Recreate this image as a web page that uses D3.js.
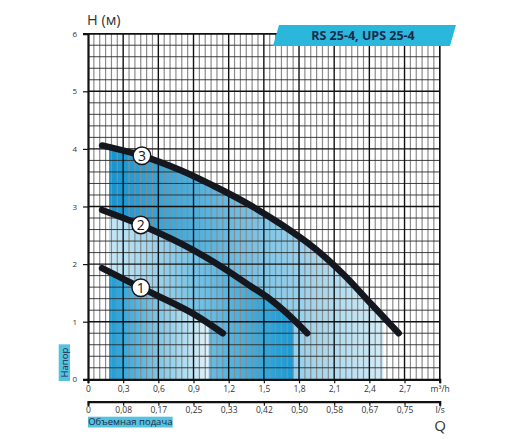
<!DOCTYPE html>
<html>
<head>
<meta charset="utf-8">
<script src="https://cdn.jsdelivr.net/npm/d3@7"></script>
<style>
  html, body { margin: 0; padding: 0; background: #fff; }
  svg { display: block; font-family: "Open Sans", "DejaVu Sans", sans-serif; }
</style>
</head>
<body>
<div id="chart"></div>
<script>
// flow in m3/h, head in m
const curve1 = [[0.12, 1.93], [0.45, 1.59], [0.87, 1.17], [1.15, 0.80]];
const curve2 = [[0.12, 2.94], [0.45, 2.68], [0.79, 2.36], [1.07, 2.04], [1.385, 1.62], [1.56, 1.38], [1.70, 1.14], [1.87, 0.80]];
const curve3 = [[0.12, 4.06], [0.46, 3.88], [0.79, 3.63], [1.07, 3.36], [1.36, 3.05], [1.64, 2.70], [1.93, 2.28], [2.18, 1.82], [2.41, 1.32], [2.65, 0.80]];
const curveNames = ['1', '2', '3'];
const markerQ = [0.45, 0.45, 0.46];

const fillStart = 0.18;
const fillEnds = [1.03, 1.75, 2.52];

const qTicks = [0, 0.3, 0.6, 0.9, 1.2, 1.5, 1.8, 2.1, 2.4, 2.7, 3.0];
const qLabelsM3h = ['0', '0,3', '0,6', '0,9', '1,2', '1,5', '1,8', '2,1', '2,4', '2,7', 'm³/h'];
const qLabelsLs = ['0', '0,08', '0,17', '0,25', '0,33', '0,42', '0,50', '0,58', '0,67', '0,75', 'l/s'];
const hTicks = [0, 1, 2, 3, 4, 5, 6];

const title = 'RS 25-4, UPS 25-4';

const width = 512, height = 439;
const plotL = 88, plotR = 439.7, plotT = 33.7, plotB = 379.3;

const x = d3.scaleLinear().domain([0, 3]).range([plotL, plotR]);
const y = d3.scaleLinear().domain([0, 6]).range([plotB, plotT]);

const svg = d3.select('#chart').append('svg')
  .attr('width', width)
  .attr('height', height);

const defs = svg.append('defs');
const curves = [curve1, curve2, curve3];

// gradients: region 1 and 3 fade to the right, region 2 darkens to the right
const gradStops = [
  ['#1a9dd8', '#e0f2fa'],
  ['#c6e6f5', '#169bd7'],
  ['#1295d3', '#d2ebf7'],
];

gradStops.forEach((s, i) => {
  const g = defs.append('linearGradient')
    .attr('id', 'grad' + i)
    .attr('gradientUnits', 'userSpaceOnUse')
    .attr('x1', x(fillStart)).attr('x2', x(fillEnds[i]))
    .attr('y1', 0).attr('y2', 0);
  g.append('stop').attr('offset', '0%').attr('stop-color', s[0]);
  g.append('stop').attr('offset', '100%').attr('stop-color', s[1]);

  defs.append('clipPath').attr('id', 'clip' + i)
    .append('rect')
    .attr('x', x(fillStart)).attr('y', plotT)
    .attr('width', x(fillEnds[i]) - x(fillStart))
    .attr('height', plotB - plotT);
});

const area = d3.area()
  .x(d => x(d[0]))
  .y0(y(0))
  .y1(d => y(d[1]))
  .curve(d3.curveCatmullRom.alpha(0.5));

const line = d3.line()
  .x(d => x(d[0]))
  .y(d => y(d[1]))
  .curve(d3.curveCatmullRom.alpha(0.5));

[2, 1, 0].forEach(i => {
  svg.append('path')
    .attr('d', area(curves[i]))
    .attr('fill', `url(#grad${i})`)
    .attr('clip-path', `url(#clip${i})`);
});

// grid
const grid = svg.append('g');
const vMinor = d3.range(0, 61).map(i => i * 0.05).filter((d, i) => i % 6 !== 0);
const hMinor = d3.range(0, 31).map(i => i * 0.2).filter((d, i) => i % 5 !== 0);

grid.selectAll('.vminor').data(vMinor).enter().append('line')
  .attr('x1', d => x(d)).attr('x2', d => x(d))
  .attr('y1', plotT).attr('y2', plotB)
  .attr('stroke', '#8c8c8c').attr('stroke-width', 1.2);

grid.selectAll('.hminor').data(hMinor).enter().append('line')
  .attr('x1', plotL).attr('x2', plotR)
  .attr('y1', d => y(d)).attr('y2', d => y(d))
  .attr('stroke', '#2a2a2a').attr('stroke-width', 0.9);

grid.selectAll('.vmajor').data(qTicks.slice(1)).enter().append('line')
  .attr('x1', d => x(d)).attr('x2', d => x(d))
  .attr('y1', plotT).attr('y2', plotB)
  .attr('stroke', '#111').attr('stroke-width', 1.4);

grid.selectAll('.hmajor').data(hTicks.slice(1)).enter().append('line')
  .attr('x1', plotL).attr('x2', plotR)
  .attr('y1', d => y(d)).attr('y2', d => y(d))
  .attr('stroke', '#111').attr('stroke-width', 1.4);

// axes
const yAxis = svg.append('g')
  .attr('transform', `translate(${plotL},0)`)
  .call(d3.axisLeft(y).tickValues(hTicks).tickSize(5).tickPadding(6)
    .tickFormat(d3.format('d')));
yAxis.select('.domain').attr('stroke', '#111').attr('stroke-width', 2.2);
yAxis.selectAll('.tick line').attr('stroke', '#111').attr('stroke-width', 1.2);
yAxis.selectAll('.tick text').attr('font-size', 8).attr('fill', '#333')
  .style('font-family', '"Open Sans", sans-serif');

const xAxis = svg.append('g')
  .attr('transform', `translate(0,${plotB})`)
  .call(d3.axisBottom(x).tickValues(qTicks).tickSize(4).tickPadding(3)
    .tickFormat((d, i) => qLabelsM3h[i]));
xAxis.select('.domain').attr('stroke', '#111').attr('stroke-width', 2.2);
xAxis.selectAll('.tick line').attr('stroke', '#111').attr('stroke-width', 1.2);
xAxis.selectAll('.tick text').attr('font-size', 8.5).attr('fill', '#333')
  .style('font-family', '"Open Sans", sans-serif');

const x2Axis = svg.append('g')
  .attr('transform', `translate(0,${plotB + 22.4})`)
  .call(d3.axisBottom(x).tickValues(qTicks).tickSize(4).tickPadding(1)
    .tickFormat((d, i) => qLabelsLs[i]));
x2Axis.select('.domain').attr('stroke', '#111').attr('stroke-width', 2.2);
x2Axis.selectAll('.tick line').attr('stroke', '#111').attr('stroke-width', 1.2);
x2Axis.selectAll('.tick text').attr('font-size', 8.5).attr('fill', '#333')
  .style('font-family', '"Open Sans", sans-serif');

// right and top borders
svg.append('line')
  .attr('x1', plotR).attr('x2', plotR).attr('y1', plotT).attr('y2', plotB)
  .attr('stroke', '#111').attr('stroke-width', 1.4);
svg.append('line')
  .attr('x1', plotL).attr('x2', plotR).attr('y1', plotT).attr('y2', plotT)
  .attr('stroke', '#111').attr('stroke-width', 1.4);

// curves
curves.forEach(c => {
  svg.append('path')
    .attr('d', line(c))
    .attr('fill', 'none')
    .attr('stroke', '#15171f')
    .attr('stroke-width', 6.5)
    .attr('stroke-linecap', 'round');
});

// markers
curves.forEach((c, i) => {
  const q = markerQ[i];
  const k = d3.bisector(d => d[0]).left(c, q);
  const a = c[Math.max(k - 1, 0)], b = c[Math.min(k, c.length - 1)];
  const t = b[0] === a[0] ? 0 : (q - a[0]) / (b[0] - a[0]);
  const h = a[1] + t * (b[1] - a[1]);
  const g = svg.append('g').attr('transform', `translate(${x(q)},${y(h)})`);
  g.append('circle').attr('r', 8.8).attr('fill', '#fff')
    .attr('stroke', '#15171f').attr('stroke-width', 1.5);
  g.append('text').text(curveNames[i])
    .attr('text-anchor', 'middle').attr('dy', '0.36em')
    .attr('font-size', 14).attr('fill', '#15171f');
});

// title banner
const bx0 = 273, bx1 = 456, by0 = 25, by1 = 46, skew = 6;
svg.append('path')
  .attr('d', `M${bx0 + skew},${by0}L${bx1},${by0}L${bx1 - skew},${by1}L${bx0},${by1}Z`)
  .attr('fill', '#2bb6dc');
svg.append('text')
  .attr('x', 363).attr('y', 40)
  .attr('text-anchor', 'middle')
  .attr('font-size', 12.5).attr('font-weight', 'bold')
  .attr('fill', '#1b2b4a')
  .text(title);

// axis titles
svg.append('text')
  .attr('x', 87).attr('y', 24.5)
  .attr('font-size', 14.5).attr('fill', '#333')
  .text('H (м)');

svg.append('text')
  .attr('x', 440).attr('y', 431)
  .attr('text-anchor', 'middle')
  .attr('font-size', 15).attr('fill', '#333')
  .text('Q');

svg.append('rect')
  .attr('x', 88).attr('y', 416.7).attr('width', 84.7).attr('height', 10.8)
  .attr('fill', '#55c3e0');
svg.append('text')
  .attr('x', 130.3).attr('y', 425.3)
  .attr('text-anchor', 'middle')
  .attr('font-size', 9.5).attr('fill', '#1b2b4a')
  .text('Объемная подача');

svg.append('rect')
  .attr('x', 58.7).attr('y', 344.3).attr('width', 11.3).attr('height', 36.7)
  .attr('fill', '#55c3e0');
svg.append('text')
  .attr('transform', 'translate(67.7,362.6) rotate(-90)')
  .attr('text-anchor', 'middle')
  .attr('font-size', 9.5).attr('fill', '#1b2b4a')
  .text('Напор');
</script>
</body>
</html>
